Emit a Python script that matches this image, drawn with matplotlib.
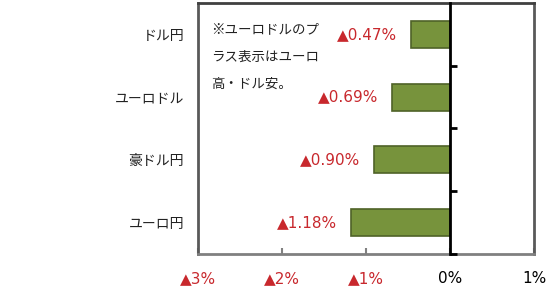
import matplotlib
matplotlib.use('Agg')
import matplotlib.pyplot as plt

# data
pairs = ['ドル円', 'ユーロドル', '豪ドル円', 'ユーロ円']
changes = [-0.47, -0.69, -0.90, -1.18]
xticks = [-3, -2, -1, 0, 1]
note = '※ユーロドルのプ\nラス表示はユーロ\n高・ドル安。'

jp = ['Noto Sans CJK JP', 'DejaVu Sans']
num = ['DejaVu Sans', 'Noto Sans CJK JP']
red = '#C8282D'
frame = '#595959'


def fmt_pct(v, digits):
    s = f'{abs(v):.{digits}f}%'
    return ('▲' + s) if v < 0 else s


fig = plt.figure(figsize=(5.5, 2.89), dpi=100)
ax = fig.add_axes([0.36, 0.121, 0.611, 0.869])

ypos = list(range(len(pairs)))
ax.barh(ypos, changes, height=0.43, color='#77933C', edgecolor='#4F6228', linewidth=1.2, zorder=2)

# data labels
for y, v in zip(ypos, changes):
    ax.annotate(fmt_pct(v, 2), xy=(v, y), xytext=(-10, 0), textcoords='offset points',
                ha='right', va='center', fontsize=11, color=red, family=num)

ax.set_xlim(-3, 1)
ax.set_ylim(len(pairs) - 0.5, -0.5)

ax.set_yticks(ypos)
ax.set_yticklabels(pairs, family=jp, fontsize=10, color='#222222')
ax.tick_params(axis='y', length=0, pad=10)

ax.set_xticks(xticks)
ax.set_xticklabels([fmt_pct(t, 0) for t in xticks], family=num, fontsize=11)
for lab, t in zip(ax.get_xticklabels(), xticks):
    lab.set_color(red if t < 0 else 'black')
ax.tick_params(axis='x', direction='in', length=4, width=1.5, color='#808080', pad=12)

for side in ['left', 'right', 'top']:
    ax.spines[side].set_color(frame)
    ax.spines[side].set_linewidth(2)
ax.spines['top'].set_color('#404040')
ax.spines['bottom'].set_color('#808080')
ax.spines['bottom'].set_linewidth(2)

# zero line with category-boundary ticks
ax2 = ax.twinx()
ax2.set_ylim(ax.get_ylim())
ax2.spines['left'].set_position(('data', 0))
ax2.spines['left'].set_color('black')
ax2.spines['left'].set_linewidth(2)
for side in ['right', 'top', 'bottom']:
    ax2.spines[side].set_visible(False)
ax2.yaxis.set_ticks_position('left')
ax2.set_yticks([y + 0.5 for y in ypos])
ax2.set_yticklabels([])
ax2.tick_params(axis='y', direction='in', length=5, width=2, color='black')

ax.text(0.04, 0.925, note, transform=ax.transAxes, family=jp, fontsize=9.7,
        va='top', ha='left', linespacing=2.25, color='#222222')

fig.savefig('out.png', dpi=100)
